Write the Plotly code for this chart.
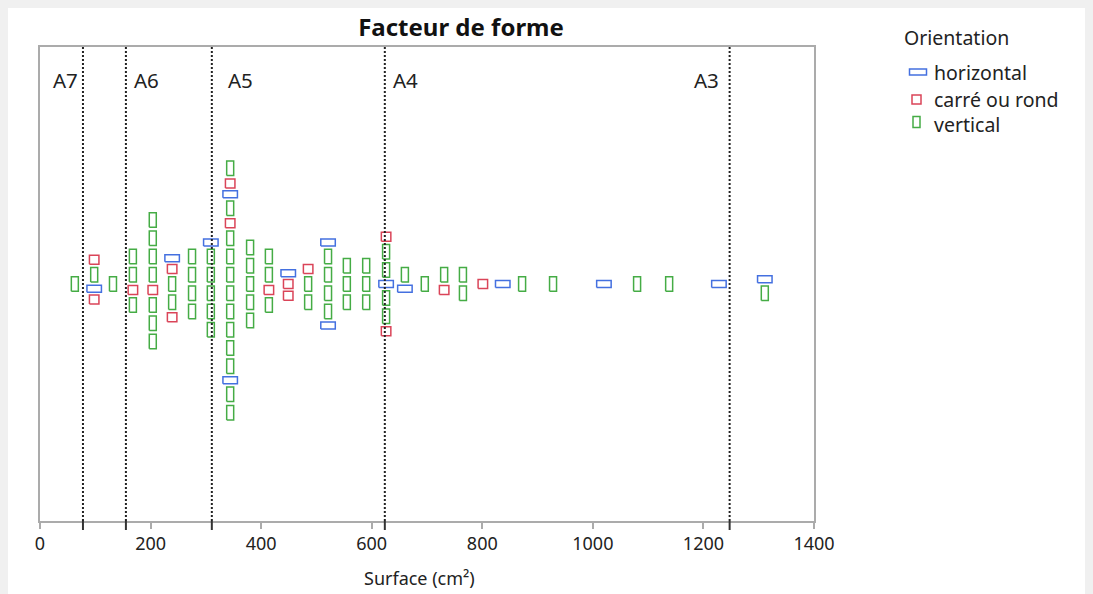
import plotly.graph_objects as go

# ---------------- data ----------------
# surface (cm²) of each beeswarm column
surface = [63, 98, 132, 168, 204, 239, 275, 309, 344, 380, 414, 449, 485, 521,
           555, 590, 626, 660, 696, 731, 765, 801, 837, 872, 928, 1020, 1080,
           1138, 1228, 1311]
# orientations of the pictures in each column, listed top to bottom
# h = horizontal, c = carré ou rond, v = vertical
column_orientations = [
    "v", "cvhc", "v", "vvcv", "vvvvcvvv", "hcvvc", "vvvv", "hvvvvv",
    "vchvcvvvvvvvvhvv", "vvvvv", "vvcv", "hcc", "cvv", "hvvvvh", "vvv", "vvv",
    "cvvhvvc", "vh", "v", "vc", "vv", "c", "h", "v", "v", "h", "v", "v", "h", "hv",
]
categories = ["horizontal", "carré ou rond", "vertical"]
codes = ["h", "c", "v"]

paper_sizes = ["A7", "A6", "A5", "A4", "A3"]
paper_areas = [10.5 * 7.4, 14.8 * 10.5, 21.0 * 14.8, 29.7 * 21.0, 42.0 * 29.7]
paper_label_x = [47, 193, 363, 662, 1206]

x_title = "Surface (cm²)"
chart_title = "Facteur de forme"
legend_title = "Orientation"
x_ticks = [0, 200, 400, 600, 800, 1000, 1200, 1400]

# ---------------- style ----------------
colors = {"h": "#4470E0", "c": "#DA4458", "v": "#45AC45"}
stack_h = {"h": 9.7, "c": 11.8, "v": 18.3}          # px stacking height
draw_wh = {"h": (16, 8.5), "c": (11, 10.5), "v": (8.5, 16)}  # px outer size
LW = 1.5

OFF = 8  # page offset of the figure in the browser window
W, H = 1093 - OFF, 594 - OFF
L, R, T, B = 40 - OFF, 279, 47 - OFF, 73
plot_w = W - L - R
plot_h = H - T - B
x_range = [0, 1400]
px_per_unit = plot_w / (x_range[1] - x_range[0])
y_half = plot_h / 2  # y axis in pixel units centred on 0

xs = {c: [] for c in codes}
ys = {c: [] for c in codes}
for sx, col in zip(surface, column_orientations):
    n = len(col)
    hs = [stack_h[c] for c in col]
    if n % 2 == 0:
        top = sum(hs[: n // 2])
    else:
        m = n // 2
        top = sum(hs[:m]) + hs[m] / 2
    cum = 0.0
    for c, hh in zip(col, hs):
        yc = top - cum - hh / 2
        cum += hh
        w, h = draw_wh[c]
        dx = (w - LW) / 2 / px_per_unit
        dy = (h - LW) / 2
        xs[c] += [sx - dx, sx + dx, sx + dx, sx - dx, sx - dx, None]
        ys[c] += [yc - dy, yc - dy, yc + dy, yc + dy, yc - dy, None]

fig = go.Figure()
for c, name in zip(codes, categories):
    fig.add_trace(go.Scatter(x=xs[c], y=ys[c], mode="lines", name=name,
                             line=dict(color=colors[c], width=LW),
                             hoverinfo="skip", showlegend=False))

def px_to_paper_x(px):
    return (px - OFF - L) / plot_w

def px_to_paper_y(py):
    return (H - B - (py - OFF)) / plot_h

shapes = []
for a in paper_areas:
    shapes.append(dict(type="line", xref="x", yref="paper", x0=a, x1=a, y0=0, y1=1,
                       line=dict(color="#222222", width=2, dash="2px,2px")))
    shapes.append(dict(type="line", xref="x", yref="paper", x0=a, x1=a,
                       y0=-9 / plot_h, y1=0, line=dict(color="#333333", width=2)))

annotations = []
for lab, lx in zip(paper_sizes, paper_label_x):
    annotations.append(dict(x=lx, y=px_to_paper_y(80), xref="x", yref="paper",
                            text=lab, showarrow=False, xanchor="center", yanchor="middle",
                            font=dict(size=20.5, color="#222222")))

# custom legend
annotations.append(dict(x=px_to_paper_x(902), y=px_to_paper_y(38), xref="paper", yref="paper",
                        text=legend_title, showarrow=False, xanchor="left", yanchor="middle",
                        font=dict(size=19.5, color="#222222")))
leg_rows = [72, 99.5, 124]
leg_icon = {"h": (918, 17, 6), "c": (916.5, 9, 9), "v": (916.5, 7, 11)}
for c, name, ry in zip(codes, categories, leg_rows):
    cx, w, h = leg_icon[c]
    iy = ry if c != "v" else ry - 2
    shapes.append(dict(type="rect", xref="paper", yref="paper",
                       xsizemode="pixel", ysizemode="pixel",
                       xanchor=px_to_paper_x(cx), yanchor=px_to_paper_y(iy),
                       x0=-w / 2, x1=w / 2, y0=-h / 2, y1=h / 2,
                       line=dict(color=colors[c], width=1.5), fillcolor="rgba(0,0,0,0)"))
    annotations.append(dict(x=px_to_paper_x(932), y=px_to_paper_y(ry), xref="paper", yref="paper",
                            text=name, showarrow=False, xanchor="left", yanchor="middle",
                            font=dict(size=19.5, color="#222222")))

# axis title
annotations.append(dict(x=px_to_paper_x(419), y=px_to_paper_y(578), xref="paper", yref="paper",
                        text=x_title, showarrow=False, xanchor="center", yanchor="middle",
                        font=dict(size=18, color="#222222")))

fig.update_layout(
    width=W, height=H, autosize=False,
    margin=dict(l=L, r=R, t=T, b=B, pad=0),
    paper_bgcolor="white", plot_bgcolor="white",
    font=dict(family="Noto Sans", color="#222222"),
    title=dict(text="<b>" + chart_title + "</b>", x=px_to_paper_x(461), xref="paper",
               xanchor="center", y=1 - (28 - OFF) / H, yref="container", yanchor="middle",
               font=dict(size=24, color="#111111")),
    xaxis=dict(range=x_range, tickvals=x_ticks, showgrid=False, zeroline=False,
               showline=True, mirror=True, linecolor="#ABABAB", linewidth=1.5,
               ticks="outside", ticklen=6, tickwidth=1.5, tickcolor="#ABABAB",
               tickfont=dict(size=18, color="#222222")),
    yaxis=dict(range=[-y_half, y_half], showgrid=False, zeroline=False,
               showline=True, mirror=True, linecolor="#ABABAB", linewidth=1.5,
               showticklabels=False, ticks=""),
    shapes=shapes, annotations=annotations, showlegend=False,
)

fig.write_html("out.html", config={"displayModeBar": False},
               post_script="document.body.style.background='#F0F0F0';")
